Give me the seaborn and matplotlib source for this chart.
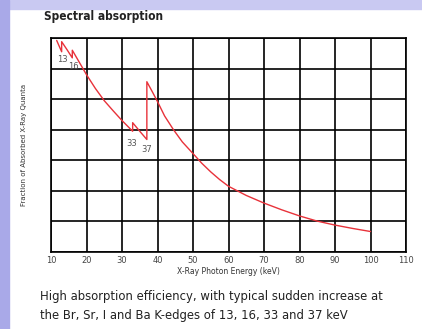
import pandas as pd
import matplotlib.pyplot as plt
import seaborn as sns
from matplotlib.patches import Rectangle

sns.set_theme(style="white")
plt.rcParams['font.family'] = ['DejaVu Sans']

# curve (energy in keV, fraction in grid units 0..7)
energy = [11.6, 13.0, 13.0, 14.5, 16.0, 16.0, 18.0, 20.0, 22.5, 25.0, 27.5, 30.0,
          33.0, 33.0, 35.0, 37.0, 37.0, 38.5, 40.0, 42.0, 44.5, 47.0, 50.0, 52.5,
          55.0, 57.5, 60.0, 65.0, 70.0, 75.0, 80.0, 85.0, 90.0, 95.0, 100.0]
fraction = [6.92, 6.55, 6.88, 6.62, 6.35, 6.6, 6.2, 5.8, 5.35, 4.95, 4.62, 4.3,
            3.95, 4.23, 3.95, 3.68, 5.57, 5.25, 4.92, 4.45, 4.0, 3.6, 3.22, 2.9,
            2.62, 2.37, 2.15, 1.85, 1.6, 1.38, 1.18, 1.01, 0.88, 0.77, 0.67]
edges = ["13", "16", "33", "37"]
edge_pos = [(13.2, 6.3), (16.2, 6.08), (32.7, 3.55), (37.0, 3.35)]
xticks = list(range(10, 111, 10))
yticks = list(range(0, 8))

df = pd.DataFrame({"energy": energy, "fraction": fraction})

fig = plt.figure(figsize=(4.22, 3.29), dpi=100)
fig.patch.set_facecolor("white")
# slide background bits
fig.patches.append(Rectangle((0, 1 - 9 / 329), 1, 9 / 329, transform=fig.transFigure,
                             color="#c9c9f2", zorder=0))
fig.patches.append(Rectangle((0, 0), 9 / 422, 1, transform=fig.transFigure,
                             color="#a9a9e8", zorder=0))

ax = fig.add_axes([51 / 422, 1 - 252 / 329, 355 / 422, 214 / 329])
sns.lineplot(data=df, x="energy", y="fraction", sort=False, estimator=None,
             color="#e8323a", linewidth=1.0, ax=ax)

ax.set_xlim(10, 110)
ax.set_ylim(0, 7)
ax.set_xticks(xticks)
ax.set_yticks(yticks)
ax.set_yticklabels([])
ax.grid(True, color="black", linewidth=1.2)
for s in ax.spines.values():
    s.set_color("black")
    s.set_linewidth(1.2)
ax.tick_params(axis="x", length=0, pad=3, labelsize=6, labelcolor="#444444")
ax.tick_params(axis="y", length=0)
ax.set_xlabel("X-Ray Photon Energy (keV)", fontsize=5.5, color="#333333", labelpad=1)
ax.set_ylabel("Fraction of Absorbed X-Ray Quanta", fontsize=5, color="#333333", labelpad=14)

for lab, (x, y) in zip(edges, edge_pos):
    ax.text(x, y, lab, fontsize=6, color="#555555", ha="center", va="center")

fig.text(44 / 422, 1 - 20 / 329, "Spectral absorption", fontsize=8.6, fontweight="bold",
         color="#222222", ha="left", va="baseline", fontstretch="condensed")
fig.text(40 / 422, 1 - 300 / 329, "High absorption efficiency, with typical sudden increase at",
         fontsize=8.4, color="#222222", ha="left", va="baseline")
fig.text(40 / 422, 1 - 319 / 329, "the Br, Sr, I and Ba K-edges of 13, 16, 33 and 37 keV",
         fontsize=8.4, color="#222222", ha="left", va="baseline")

fig.savefig("out.png", dpi=100)
